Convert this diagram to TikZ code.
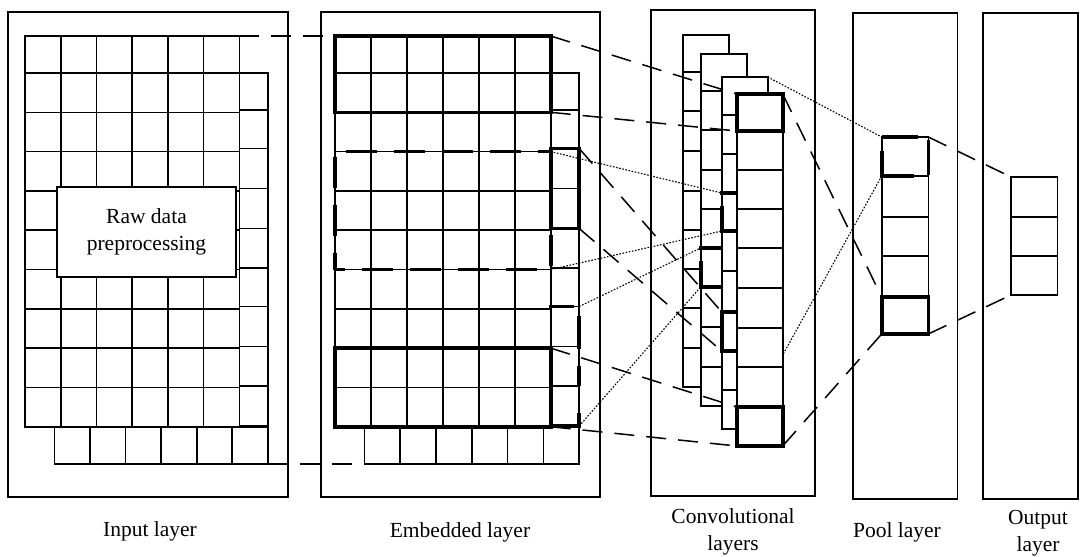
\documentclass[tikz,border=0pt]{standalone}
\usepackage{fontspec}
\setmainfont{Liberation Serif}
\tikzset{
  framebox/.style={draw, line width=1.3pt, inner sep=0pt, outer sep=0pt, anchor=north west},
  cellbox/.style={inner sep=0pt, outer sep=0pt, anchor=north west},
  gridln/.style={line width=1.6pt, line cap=rect},
  heavy/.style={line width=3.6pt, line cap=rect},
  heavybox/.style={cellbox, draw, line width=3.6pt},
  link/.style={line width=1.5pt, dash pattern=on 20pt off 12pt},
  dotlink/.style={line width=1.1pt, dash pattern=on 1.6pt off 1.6pt},
  captext/.style={align=center, inner sep=0pt},
}
% 6x10 grid with a side column and a bottom row (input and embedded layers)
\newcommand\gridlayer[2]{%
  \foreach \gy in {36,73,112.3,151.6,190.9,230.2,269.5,308.8,348.1,387.4,426.7}
    \draw[gridln] (#1,\gy) -- ({#1+6*#2},\gy);
  \foreach \gi in {0,...,6}
    \draw[gridln] ({#1+\gi*#2},36) -- ({#1+\gi*#2},426.7);
  \draw[gridln] ({#1+6*#2},426.7) -- ({#1+6*#2},72.7) -- ({#1+6*#2+28.5},72.7) -- ({#1+6*#2+28.5},464);
  \foreach \gy in {110,148.5,188.5,228.5,267.7,306.5,346.5,386,425.5}
    \draw[gridln] ({#1+6*#2},\gy) -- ({#1+6*#2+28.5},\gy);
  \draw[gridln] ({#1+29.5},426.7) rectangle ({#1+6*#2+28.5},464);
  \foreach \gi in {1,...,5}
    \draw[gridln] ({#1+29.5+\gi*(6*#2-1)/6},426.7) -- ({#1+29.5+\gi*(6*#2-1)/6},464);
}
% one column of feature cells: left, top, bottom, inner row lines
\newcommand\stackcol[4]{%
  \draw[gridln, fill=white] (#1,#2) rectangle ({#1+46},#3);
  \foreach \sy in {#4} \draw[gridln] (#1,\sy) -- ({#1+46},\sy);
}
\begin{document}
\begin{tikzpicture}[x=1pt,y=-1pt, every node/.style={font=\fontsize{21.5}{27}\selectfont}]
\useasboundingbox[fill=white] (0,0) rectangle (1080,557);

% layer frames
\node[framebox, minimum width=280pt, minimum height=485pt] (inbox) at (8,12) {};
\node[framebox, minimum width=279pt, minimum height=485pt] (embox) at (321,12) {};
\node[framebox, minimum width=164pt, minimum height=486pt] (cvbox) at (651,10) {};
\node[framebox, minimum width=104.3pt, minimum height=486pt] (plbox) at (853,13) {};
\node[framebox, minimum width=95pt, minimum height=486pt] (opbox) at (983,13) {};

% captions
\node[captext] (inlbl) at (150,531) {Input layer};
\node[captext] (emlbl) at (460,532) {Embedded layer};
\node[captext] (cvlbl) at (733,532) {Convolutional\\layers};
\node[captext] (pllbl) at (897,532) {Pool layer};
\node[captext] (oplbl) at (1038,533) {Output\\layer};

% input layer
\gridlayer{25}{35.72}
\node[cellbox, draw, fill=white, line width=1.3pt, minimum width=179pt, minimum height=90pt, align=center] (raw) at (57,187) {Raw data\\preprocessing};
\coordinate (in-tr) at (239.3,36);
\coordinate (in-br) at (267.7,464);

% embedded layer
\gridlayer{335}{35.95}
\coordinate (em-bl) at (364.5,464);
\node[heavybox, minimum width=215.7pt, minimum height=76.3pt] (etop) at (335,36) {};
\node[heavybox, minimum width=215.7pt, minimum height=117.9pt, dash pattern=on 31pt off 17pt, dash phase=21pt] (edash) at (335,151.6) {};
\node[heavybox, minimum width=215.7pt, minimum height=78.6pt] (ebot) at (335,348.1) {};
\node[heavybox, minimum width=28.5pt, minimum height=80pt] (eside) at (550.7,148.5) {};
\node[cellbox, minimum width=28.5pt, minimum height=119.5pt] (esdash) at (550.7,306.5) {};
\draw[heavy] (esdash.north west) -- (572,306.5);
\draw[heavy] (579.2,318) -- (579.2,347);
\draw[heavy] (579.2,368) -- (579.2,384);
\draw[heavy] (579.2,415) -- (esdash.south east);
\draw[heavy] (esdash.south west) -- (esdash.south east);

% convolutional layers: stacked feature maps
\stackcol{682.7}{35}{387}{72,111,151,191,230,269,308,348}
\stackcol{700.7}{54}{406}{91,130,170,209,248,287,327,367}
\node[cellbox, minimum width=46pt, minimum height=39pt] (s2hl) at (700.7,248) {};
\draw[heavy] (s2hl.north west) -- (s2hl.north east);
\draw[heavy] (s2hl.south west) -- (s2hl.south east);
\draw[heavy] ([yshift=24pt]s2hl.south west) -- (s2hl.south west);

\stackcol{721.7}{77}{429}{115,154,193,231,271,312,351,390}
\coordinate (s3-ne) at (767.7,77);
\node[cellbox, minimum width=46pt, minimum height=38pt] (s3a) at (721.7,193) {};
\draw[heavy] (s3a.north west) -- (s3a.north east);
\draw[heavy] (s3a.south west) -- (s3a.south east);
\draw[heavy] ([yshift=23pt]s3a.south west) -- (s3a.south west);
\node[cellbox, minimum width=46pt, minimum height=39pt] (s3b) at (721.7,312) {};
\draw[heavy] (s3b.north east) -- (s3b.north west) -- (s3b.south west) -- (s3b.south east);

\stackcol{736.7}{94}{446}{131,170,209,248,288,328,367,407}
\node[heavybox, minimum width=46pt, minimum height=37pt] (ftop) at (736.7,94) {};
\node[heavybox, minimum width=46pt, minimum height=39pt] (fbot) at (736.7,407) {};
\coordinate (f-mid) at (782.7,355);

% pool layer
\draw[gridln] (881.7,137) rectangle (928.3,334);
\foreach \py in {176,216.7,256,297} \draw[gridln] (881.7,\py) -- (928.3,\py);
\node[cellbox, minimum width=46.6pt, minimum height=39pt] (ptop) at (881.7,137) {};
\draw[heavy] (884,137) -- (916,137);
\draw[heavy] (928.3,141.7) -- (928.3,173);
\draw[heavy] (881.7,176) -- (911.7,176);
\draw[heavy] (881.7,153) -- (881.7,176);
\node[heavybox, minimum width=46.6pt, minimum height=37pt] (pbot) at (881.7,297) {};

% output layer
\node[cellbox, draw, line width=1.6pt, minimum width=46.3pt, minimum height=118pt] (outcol) at (1011,177) {};
\foreach \oy in {216.7,256} \draw[gridln] (1011,\oy) -- (1057.3,\oy);

% dashed connections
\draw[link] (in-tr) -- (etop.north west);
\draw[link] (in-br) -- (em-bl);
\draw[link] (etop.north east) -- (ftop.north west);
\draw[link] (etop.south east) -- (ftop.south west);
\draw[link] (eside.north east) -- (s3b.north west);
\draw[link] (eside.south east) -- (s3b.south west);
\draw[link] (ebot.north east) -- (fbot.north west);
\draw[link] (ebot.south east) -- (fbot.south west);
\draw[link] (ftop.north east) -- (pbot.north west);
\draw[link] (fbot.south east) -- (pbot.south west);
\draw[link] (ptop.north east) -- (outcol.north west);
\draw[link] (pbot.south east) -- (outcol.south west);

% dotted connections
\draw[dotlink] (edash.north east) -- (s3a.north west);
\draw[dotlink] (edash.south east) -- (s3a.south west);
\draw[dotlink] (esdash.north east) -- (s2hl.north west);
\draw[dotlink] (esdash.south east) -- (s2hl.south west);
\draw[dotlink] (s3-ne) -- (ptop.north west);
\draw[dotlink] (ptop.south west) -- (f-mid);
\end{tikzpicture}
\end{document}
